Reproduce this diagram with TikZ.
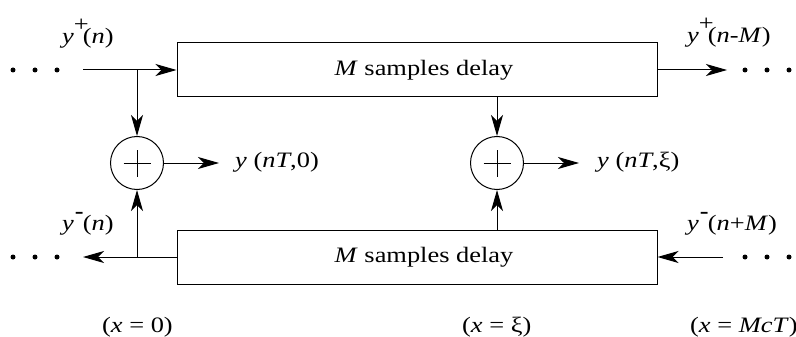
\documentclass[tikz,border=0pt]{standalone}
\usepackage{fontspec}
\setmainfont{Liberation Serif}[FakeStretch=1.2]
\usetikzlibrary{arrows.meta}
\newcommand\yup[2]{\textit{y}\raisebox{12pt}{\rlap{#1}}\kern9pt(#2)}
\begin{document}
\begin{tikzpicture}[x=1pt,y=-1pt,
  delaybox/.style={draw,line width=1pt,minimum width=480pt,minimum height=54pt,inner sep=0pt,font=\fontsize{22}{26}\selectfont},
  sumnode/.style={draw,circle,line width=1pt,minimum size=53pt,inner sep=0pt},
  conn/.style={line width=1pt,-{Stealth[length=21pt,width=12pt,inset=6pt]}},
  wire/.style={line width=1pt},
  lbl/.style={inner sep=0pt,anchor=base west,font=\fontsize{22}{26}\selectfont},
  dotc/.style={circle,fill,inner sep=0pt,minimum size=5pt}]
\useasboundingbox (0,0) rectangle (796,337);
% boxes
\node[delaybox] (top) at (417,70) {\hspace*{14pt}\textit{M} samples delay};
\node[delaybox] (bot) at (417,257) {\hspace*{14pt}\textit{M} samples delay};
% summing junctions
\node[sumnode] (s1) at (137,163) {};
\node[sumnode] (s2) at (497,163) {};
\draw[wire] ([xshift=-13.5pt]s1.center) -- ([xshift=13.5pt]s1.center);
\draw[wire] ([yshift=-13.5pt]s1.center) -- ([yshift=13.5pt]s1.center);
\draw[wire] ([xshift=-13.5pt]s2.center) -- ([xshift=13.5pt]s2.center);
\draw[wire] ([yshift=-13.5pt]s2.center) -- ([yshift=13.5pt]s2.center);
% free ends
\coordinate (inT) at (83,70);
\coordinate (brT) at (137,70);
\coordinate (outT) at (727,70);
\coordinate (inB) at (723,257);
\coordinate (brB) at (137,257);
\coordinate (outB) at (83,257);
\coordinate (o1) at (219,163);
\coordinate (o2) at (579,163);
% connectors
\draw[conn] (inT) -- (top.west);
\draw[conn] (brT) -- (s1.north);
\draw[conn] (top.east) -- (outT);
\draw[conn] (bot.west) -- (outB);
\draw[conn] (brB) -- (s1.south);
\draw[conn] (inB) -- (bot.east);
\draw[conn] (s1.east) -- (o1);
\draw[conn] (s2.east) -- (o2);
\draw[conn] (top.south -| s2) -- (s2.north);
\draw[conn] (bot.north -| s2) -- (s2.south);
% dots
\foreach \x/\n in {13/a,35/b,57/c} {
  \node[dotc] (dl\n) at (\x,70) {};
  \node[dotc] (dm\n) at (\x,257) {};
}
\foreach \x/\n in {745/a,767/b,789/c} {
  \node[dotc] (dr\n) at (\x,70) {};
  \node[dotc] (ds\n) at (\x,257) {};
}
% labels
\node[lbl] (l1) at (62,44) {\yup{+}{\textit{n}}};
\node[lbl] (l2) at (687,43) {\yup{+}{\textit{n}-\textit{M}}};
\node[lbl] (l3) at (62,230) {\yup{\kern1pt\textbf{-}}{\textit{n}}};
\node[lbl] (l4) at (687,230) {\yup{\kern1pt\textbf{-}}{\textit{n}+\textit{M}}};
\node[lbl] (l5) at (235,167) {\textit{y} (\textit{nT},0)};
\node[lbl] (l6) at (597,167) {\textit{y} (\textit{nT},ξ)};
\node[lbl] (l7) at (102,332) {(\textit{x} = 0)};
\node[lbl] (l8) at (462,332) {(\textit{x} = ξ)};
\node[lbl] (l9) at (690,332) {(\textit{x} = \textit{McT})};
\end{tikzpicture}
\end{document}
